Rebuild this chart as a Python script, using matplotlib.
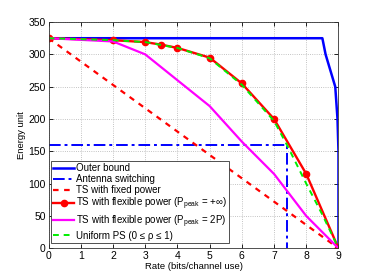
import matplotlib
matplotlib.use("Agg")
import matplotlib.pyplot as plt

plt.rcParams['font.family'] = ['Liberation Sans', 'DejaVu Sans']
plt.rcParams['mathtext.fontset'] = 'custom'
plt.rcParams['mathtext.rm'] = 'Liberation Sans'
plt.rcParams['mathtext.it'] = 'Liberation Sans'

outer_x = [0, 8.5, 8.6, 8.9, 8.97, 9.0, 9.0]
outer_y = [325, 325, 300, 250, 200, 150, 0]

ant_x = [0, 7.4, 7.4]
ant_y = [160, 160, 0]

fixed_x = [0, 9]
fixed_y = [325, 0]

flex_x = [0, 2, 3, 3.5, 4, 5, 6, 7, 8, 9]
flex_y = [325, 322, 319, 315, 310, 295, 255, 200, 115, 0]

peak_x = [0, 2, 3, 4, 5, 6, 7, 8, 9]
peak_y = [325, 320, 300, 260, 220, 165, 115, 50, 0]

ups_x = [0, 2, 3, 4, 5, 6, 7, 7.4, 8, 8.5, 9]
ups_y = [325, 322, 319, 310, 294, 253, 197, 160, 100, 52, 0]

xticks = list(range(0, 10))
yticks = list(range(0, 351, 50))

fig = plt.figure(figsize=(3.74, 2.8), dpi=100)
ax = fig.add_axes([0.130, 0.1132, 0.775, 0.808])

ax.plot(outer_x, outer_y, color='#0000ff', lw=1.8, label='Outer bound')
ax.plot(ant_x, ant_y, color='#0000ff', lw=1.4, ls=(0, (6, 2, 1.5, 2)), label='Antenna switching')
ax.plot(fixed_x, fixed_y, color='#ff0000', lw=1.6, ls=(0, (2.5, 2.5)), label='TS with fixed power')
ax.plot(flex_x, flex_y, color='#ff0000', lw=1.7, marker='o', ms=4.5, label=r'TS with flexible power (P$_{\mathrm{peak}}$ = +$\infty$)')
ax.plot(peak_x, peak_y, color='#ff00ff', lw=1.6, label=r'TS with flexible power (P$_{\mathrm{peak}}$ = 2P)')
ax.plot(ups_x, ups_y, color='#00ee00', lw=1.4, ls=(0, (3, 2.5)), label='Uniform PS (0 ≤ ρ ≤ 1)')

ax.set_xlim(0, 9)
ax.set_ylim(0, 350)
ax.set_xticks(xticks)
ax.set_yticks(yticks)
ax.tick_params(direction='in', labelsize=7.5, length=3, width=0.6, top=True, right=True, pad=2)
ax.grid(True, ls=':', color='#b0b0b0', lw=0.6)
for s in ax.spines.values():
    s.set_linewidth(0.6)
    s.set_color('#333333')
ax.set_xlabel('Rate (bits/channel use)', fontsize=6.8, labelpad=1)
ax.set_ylabel('Energy unit', fontsize=6.8, labelpad=2)

leg = ax.legend(loc='lower left', bbox_to_anchor=(0.008, 0.023), fontsize=7,
                fancybox=False, framealpha=1, edgecolor='#333333',
                handlelength=2.1, handletextpad=0.2, labelspacing=0.1,
                borderpad=0.25, borderaxespad=0)
leg.get_frame().set_linewidth(0.6)

fig.savefig('out.png', dpi=100)
